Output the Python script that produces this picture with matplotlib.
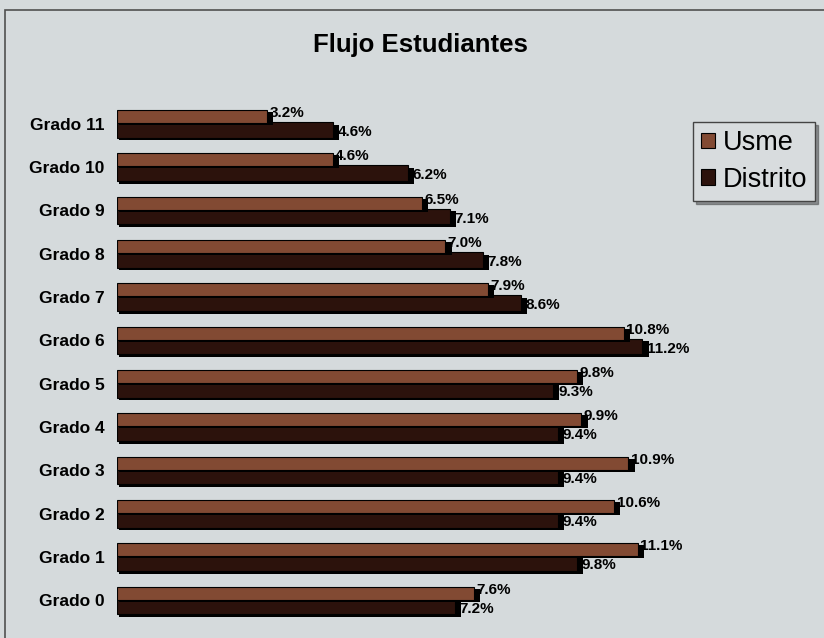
import matplotlib.pyplot as plt
from matplotlib.patches import Rectangle
import numpy as np

# Datos
grados = ["Grado 0", "Grado 1", "Grado 2", "Grado 3", "Grado 4", "Grado 5",
          "Grado 6", "Grado 7", "Grado 8", "Grado 9", "Grado 10", "Grado 11"]
usme = [7.6, 11.1, 10.6, 10.9, 9.9, 9.8, 10.8, 7.9, 7.0, 6.5, 4.6, 3.2]
distrito = [7.2, 9.8, 9.4, 9.4, 9.4, 9.3, 11.2, 8.6, 7.8, 7.1, 6.2, 4.6]

plt.rcParams['font.family'] = ['Liberation Sans', 'DejaVu Sans']

fig = plt.figure(figsize=(8.24, 6.38), dpi=100, facecolor='#d5dadc')

# marco del grafico
fig.patches.append(Rectangle((5 / 824, -0.05), 1.0, 1 - 10 / 638 + 0.05,
                             transform=fig.transFigure, fill=False,
                             edgecolor='#505050', linewidth=1.2))

ax = fig.add_axes([0.142, 0.025, 0.80, 0.815])
ax.set_facecolor('none')

y = np.arange(len(grados))
h_u = 0.30
h_d = 0.36
off_u = 0.17
off_d = -0.14

# sombras
ax.barh(y + off_d - 0.06, [v + 0.08 for v in distrito], height=h_d, left=0.05,
        color='black', zorder=1)
ax.barh(y + off_u - 0.05, [v + 0.08 for v in usme], height=h_u, left=0.05,
        color='black', zorder=2)
# barras
ax.barh(y + off_d, distrito, height=h_d, color='#2c120c', edgecolor='black',
        linewidth=0.8, zorder=1.5, label='Distrito')
ax.barh(y + off_u, usme, height=h_u, color='#824a33', edgecolor='black',
        linewidth=0.8, zorder=3, label='Usme')

# etiquetas de valores
for i in range(len(grados)):
    ax.text(usme[i] + 0.05, y[i] + off_u + 0.08, f"{usme[i]:.1f}%",
            ha='left', va='center', fontsize=11, fontweight='bold', zorder=5)
    ax.text(distrito[i] + 0.1, y[i] + off_d - 0.05, f"{distrito[i]:.1f}%",
            ha='left', va='center', fontsize=11, fontweight='bold', zorder=5)

ax.set_xlim(0, 14.05)
ax.set_ylim(-0.5, 11.5)
ax.set_yticks(y)
ax.set_yticklabels(grados, fontsize=12.5, fontweight='bold')
ax.tick_params(axis='y', length=0, pad=9)
ax.set_xticks([])
for s in ax.spines.values():
    s.set_visible(False)

fig.text(0.51, 0.93, "Flujo Estudiantes", ha='center', va='center',
         fontsize=18.5, fontweight='bold')

handles, labels = ax.get_legend_handles_labels()
leg = fig.legend(handles[::-1], labels[::-1], loc='upper left',
                 bbox_to_anchor=(0.841, 0.809), fontsize=19.5, frameon=True,
                 fancybox=False, shadow=True, handlelength=0.5,
                 handleheight=0.5, handletextpad=0.3, borderpad=0.3,
                 labelspacing=0.4, borderaxespad=0)
leg.get_frame().set_edgecolor('#444444')
leg.get_frame().set_facecolor('#d8dcde')

fig.savefig("out.png", dpi=100, facecolor=fig.get_facecolor())
